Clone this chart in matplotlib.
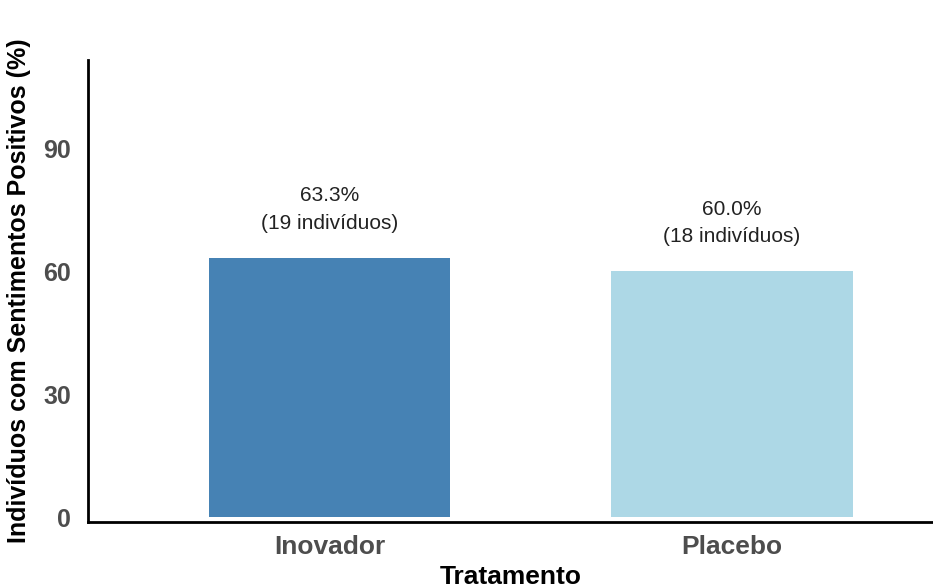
import numpy as np
import matplotlib.pyplot as plt

plt.rcParams['font.family'] = ['Liberation Sans', 'DejaVu Sans']

# dados
tratamentos = ['Inovador', 'Placebo']
percentuais = [63.3, 60.0]
individuos = [19, 18]
cores = ['#4682B4', '#ADD8E6']

fig = plt.figure(figsize=(9.33, 5.88), dpi=100)
ax = fig.add_axes([88/933, 66/588, 845/933, 462/588])

x = np.arange(len(tratamentos))
ax.bar(x, percentuais, width=0.6, color=cores)

for xi, p, n in zip(x, percentuais, individuos):
    ax.annotate(f'{p:.1f}%\n({n} indivíduos)', (xi, p), xytext=(0, 18),
                textcoords='offset points', ha='center', va='bottom',
                fontsize=15, color='#222222', linespacing=1.55)

ax.set_xlim(-0.6, 1.5)
ax.set_ylim(-1.2, 111.5)
ax.set_xticks(x)
ax.set_xticklabels(tratamentos)
ax.set_yticks([0, 30, 60, 90])

for s in ['top', 'right']:
    ax.spines[s].set_visible(False)
for s in ['left', 'bottom']:
    ax.spines[s].set_linewidth(2)

ax.tick_params(axis='both', length=0, colors='#4d4d4d', labelsize=18)
ax.tick_params(axis='x', labelsize=19, pad=9)
ax.tick_params(axis='y', pad=12)
for t in ax.get_xticklabels() + ax.get_yticklabels():
    t.set_fontweight('bold')

ax.set_xlabel('Tratamento', fontsize=19, fontweight='bold', labelpad=5)
ax.set_ylabel('Indivíduos com Sentimentos Positivos (%)', fontsize=18,
              fontweight='bold')
ax.yaxis.set_label_coords(-0.067, 0.5)

fig.savefig('out.png', dpi=100)
